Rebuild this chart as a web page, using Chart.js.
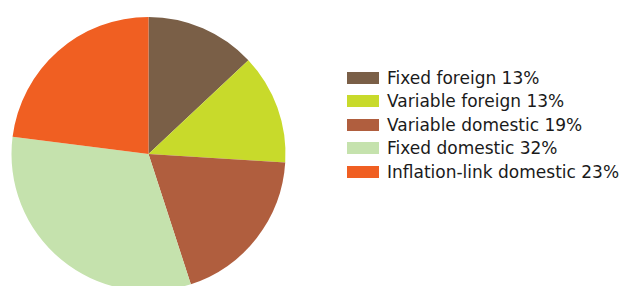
<!DOCTYPE html>
<html>
<head>
<meta charset="utf-8">
<script src="https://cdn.jsdelivr.net/npm/chart.js@4/dist/chart.umd.min.js"></script>
<style>
  body { margin: 0; background: #fff; }
  #wrap { position: relative; width: 619px; height: 286px; overflow: hidden; }
  #pie { position: absolute; left: 0; top: 0; }
  #legend { position: absolute; left: 347px; top: 66px; font-family: "DejaVu Sans", sans-serif; font-size: 17px; color: #1a1a1a; }
  .row { height: 23.5px; display: flex; align-items: center; white-space: nowrap; }
  .box { width: 32px; height: 12px; margin-right: 8px; flex: none; }
</style>
</head>
<body>
<div id="wrap">
  <canvas id="pie" width="297" height="309"></canvas>
  <div id="legend"></div>
</div>
<script>
const labels = ["Fixed foreign", "Variable foreign", "Variable domestic", "Fixed domestic", "Inflation-link domestic"];
const shares = [13, 13, 19, 32, 23];
const colors = ["#7a5f47", "#c8da2b", "#b05e3e", "#c5e2ad", "#f05f22"];

function renderLegend() {
  const legend = document.getElementById("legend");
  labels.forEach((label, i) => {
    const row = document.createElement("div");
    row.className = "row";
    const box = document.createElement("span");
    box.className = "box";
    box.style.background = colors[i];
    const text = document.createElement("span");
    text.textContent = label + " " + shares[i] + "%";
    row.appendChild(box);
    row.appendChild(text);
    legend.appendChild(row);
  });
}

function renderChart() {
  const config = {
    type: "pie",
    data: {
      labels,
      datasets: [
        {
          data: shares,
          backgroundColor: colors,
          borderWidth: 0,
        },
      ],
    },
    options: {
      responsive: false,
      animation: false,
      layout: { padding: { left: 11, top: 17, right: 11, bottom: 18 } },
      plugins: {
        legend: { display: false },
        tooltip: { enabled: false },
      },
    },
  };
  new Chart(document.getElementById("pie"), config);
}

renderLegend();
renderChart();
</script>
</body>
</html>
